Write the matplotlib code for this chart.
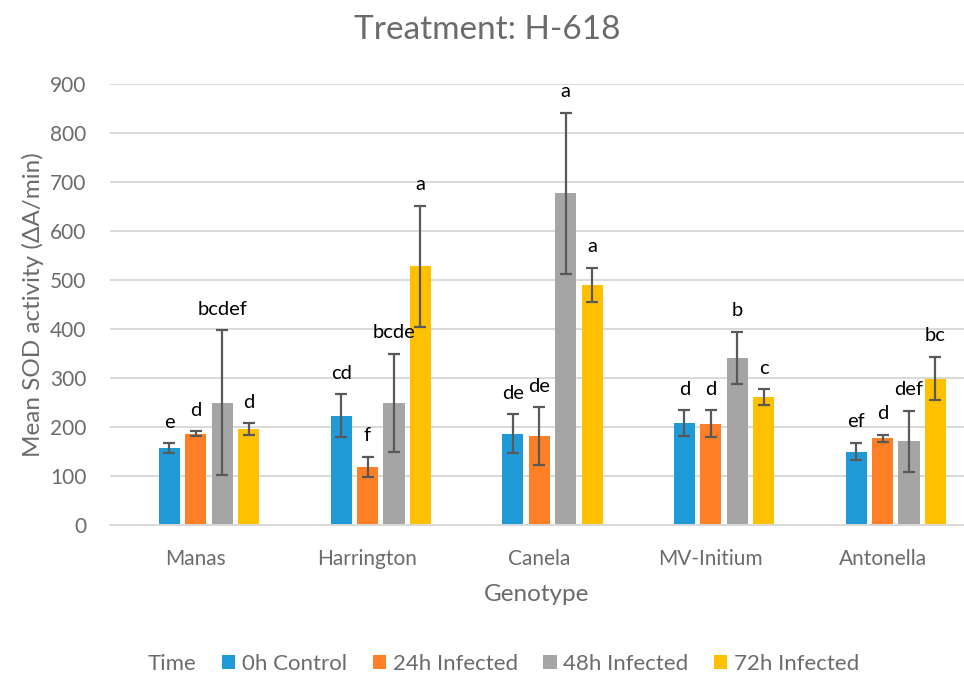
import numpy as np
import matplotlib
matplotlib.use('Agg')
import matplotlib.pyplot as plt
from matplotlib.patches import Patch

plt.rcParams['font.family'] = ['Lato', 'DejaVu Sans']

genotypes = ['Manas', 'Harrington', 'Canela', 'MV-Initium', 'Antonella']
series_names = ['0h Control', '24h Infected', '48h Infected', '72h Infected']

ctrl_0h = [157, 223, 186, 208, 150]
inf_24h = [186, 118, 181, 207, 177]
inf_48h = [250, 250, 677, 341, 171]
inf_72h = [196, 528, 490, 261, 299]

err_0h = [10, 44, 40, 26, 18]
err_24h = [5, 21, 59, 27, 7]
err_48h = [147, 100, 164, 53, 62]
err_72h = [12, 124, 35, 16, 44]

let_0h = ['e', 'cd', 'de', 'd', 'ef']
let_24h = ['d', 'f', 'de', 'd', 'd']
let_48h = ['bcdef', 'bcde', 'a', 'b', 'def']
let_72h = ['d', 'a', 'a', 'c', 'bc']

means = [ctrl_0h, inf_24h, inf_48h, inf_72h]
errs = [err_0h, err_24h, err_48h, err_72h]
letters = [let_0h, let_24h, let_48h, let_72h]
colors = ['#1E9BD7', '#FF7F27', '#A5A5A5', '#FFC000']

txt = '#6b6b6b'
grid = '#D9D9D9'

fig = plt.figure(figsize=(9.64, 6.75), dpi=100)
ax = fig.add_axes([0.1141, 0.2222, 0.8859, 0.6533])

x = np.arange(len(genotypes))
pitch = 0.154
width = 0.123
# excel keeps an empty slot for the "Time" series, so the 4 bars sit right of centre
for i in range(4):
    pos = x + (i - 1) * pitch
    ax.bar(pos, means[i], width, color=colors[i], zorder=2)
    ax.errorbar(pos, means[i], yerr=errs[i], fmt='none', ecolor='#595959',
                elinewidth=1.6, capsize=4.3, capthick=1.6, zorder=3)
    for p, m, e, s in zip(pos, means[i], errs[i], letters[i]):
        ax.annotate(s, (p, m + e), xytext=(0, 9), textcoords='offset points',
                    ha='center', va='bottom', fontsize=14.5, color='black')

ax.set_ylim(0, 900)
ax.set_xlim(-0.5, 4.474)
ax.set_yticks(np.arange(0, 901, 100))
ax.yaxis.grid(True, color=grid, linewidth=1.4, zorder=0)
ax.set_axisbelow(True)
for s in ['top', 'right', 'left']:
    ax.spines[s].set_visible(False)
ax.spines['bottom'].set_color(grid)
ax.spines['bottom'].set_linewidth(1.4)
ax.tick_params(axis='both', length=0, labelsize=15, colors=txt)
ax.tick_params(axis='y', pad=17)
ax.tick_params(axis='x', pad=17)
ax.set_xticks(x)
ax.set_xticklabels(genotypes)

ax.set_xlabel('Genotype', fontsize=17.5, color=txt, labelpad=11)
ax.set_ylabel('Mean SOD activity (ΔA/min)', fontsize=17.5, color=txt, labelpad=4)
fig.text(0.505, 0.955, 'Treatment: H-618', ha='center', va='center',
         fontsize=24, color=txt)

handles = [Patch(facecolor='none', edgecolor='none')]
handles += [Patch(facecolor=c, edgecolor='none') for c in colors]
labels = ['Time'] + series_names
leg = fig.legend(handles, labels, loc='center', bbox_to_anchor=(0.512, 0.016),
                 ncol=5, frameon=False, fontsize=16, handlelength=0.6,
                 handleheight=0.6, handletextpad=0.3, columnspacing=1.15,
                 borderaxespad=0)
for t in leg.get_texts():
    t.set_color(txt)

fig.savefig('out.png', dpi=100)
